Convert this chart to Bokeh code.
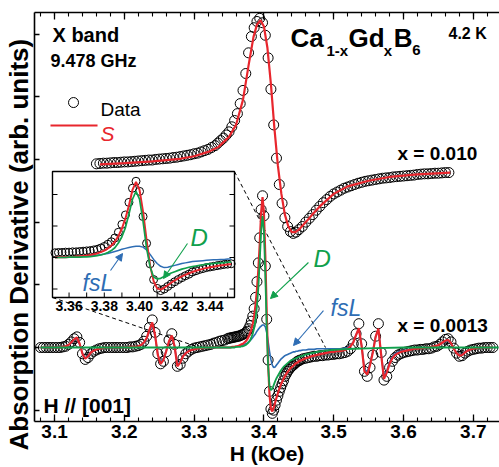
import math
from bokeh.plotting import figure
from bokeh.models import (Range1d, LinearAxis, SingleIntervalTicker, Label, Arrow,
                          NormalHead, ColumnDataSource, Title)
from bokeh.embed import file_html
from bokeh.resources import INLINE

FONT = "Liberation Sans"
RED = "#e8262d"
GREEN = "#10a04c"
BLUE = "#2e6db4"

# ---------------- x = 0.010 (upper trace) ----------------
up_h = [3.160, 3.165, 3.170, 3.175, 3.180, 3.185, 3.190, 3.195, 3.200, 3.205,
        3.210, 3.215, 3.220, 3.225, 3.230, 3.235, 3.240, 3.245, 3.250, 3.255,
        3.260, 3.265, 3.270, 3.275, 3.280, 3.285, 3.290, 3.295, 3.300, 3.305,
        3.310, 3.315, 3.320, 3.325, 3.330,
        3.334, 3.338, 3.342, 3.346, 3.350, 3.354, 3.358, 3.362, 3.366, 3.370,
        3.374, 3.378, 3.382, 3.386, 3.390, 3.394, 3.398, 3.402, 3.406, 3.410,
        3.414, 3.418, 3.422, 3.426, 3.430, 3.434, 3.438, 3.442, 3.446, 3.450,
        3.455, 3.460, 3.465, 3.470, 3.475, 3.480, 3.485, 3.490, 3.495, 3.500,
        3.505, 3.510, 3.515, 3.520, 3.525, 3.530, 3.535, 3.540, 3.545, 3.550,
        3.555, 3.560, 3.565, 3.570, 3.575, 3.580, 3.585, 3.590, 3.595, 3.600,
        3.605, 3.610, 3.615, 3.620, 3.625, 3.630, 3.635, 3.640, 3.645, 3.650,
        3.655, 3.660, 3.665]
up_data = [2.93, 2.935, 2.94, 2.94, 2.945, 2.95, 2.95, 2.955, 2.96, 2.96,
           2.965, 2.97, 2.975, 2.98, 2.985, 2.99, 2.99, 3.00, 3.005, 3.01,
           3.015, 3.02, 3.03, 3.035, 3.045, 3.055, 3.065, 3.075, 3.09, 3.10,
           3.12, 3.14, 3.16, 3.19, 3.22,
           3.26, 3.30, 3.34, 3.39, 3.44, 3.52, 3.62, 3.73, 3.89, 4.10,
           4.37, 4.70, 4.96, 5.10, 5.20, 5.25, 5.18, 4.98, 4.62, 4.12,
           3.55, 3.02, 2.60, 2.30, 2.07, 1.93, 1.85, 1.82, 1.84, 1.88,
           1.93, 2.00, 2.06, 2.12, 2.19, 2.25, 2.31, 2.36, 2.41, 2.45,
           2.48, 2.51, 2.54, 2.56, 2.58, 2.60, 2.62, 2.635, 2.65, 2.66,
           2.67, 2.68, 2.69, 2.70, 2.705, 2.71, 2.72, 2.725, 2.73, 2.735,
           2.74, 2.745, 2.75, 2.76, 2.765, 2.77, 2.77, 2.775, 2.78, 2.78,
           2.785, 2.79, 2.79]
up_fit_h = [3.165, 3.20, 3.24, 3.28, 3.30, 3.32, 3.335, 3.35, 3.36, 3.37,
            3.378, 3.385, 3.39, 3.395, 3.40, 3.405, 3.41, 3.415, 3.42, 3.425,
            3.43, 3.435, 3.44, 3.445, 3.45, 3.46, 3.47, 3.48, 3.50, 3.52,
            3.55, 3.58, 3.62, 3.667]
up_fit_s = [2.92, 2.94, 2.97, 3.01, 3.05, 3.12, 3.20, 3.36, 3.55, 3.95,
            4.50, 4.95, 5.15, 5.22, 5.12, 4.78, 4.20, 3.50, 2.90, 2.45,
            2.12, 1.93, 1.84, 1.84, 1.88, 2.00, 2.13, 2.25, 2.45, 2.57,
            2.66, 2.72, 2.76, 2.79]

# ---------------- x = 0.0013 (lower trace) ----------------
h_a = [3.080, 3.084, 3.088, 3.092, 3.096, 3.100, 3.104, 3.108,
       3.112, 3.116, 3.120, 3.124, 3.128, 3.132, 3.136, 3.140, 3.144, 3.148,
       3.152, 3.156, 3.160, 3.164, 3.168, 3.172, 3.176, 3.180, 3.184, 3.188,
       3.192, 3.196, 3.200, 3.204, 3.208, 3.212, 3.216, 3.220, 3.224, 3.228,
       3.232, 3.236, 3.240, 3.244, 3.248, 3.252, 3.256, 3.260, 3.264, 3.268,
       3.272, 3.276, 3.280, 3.284, 3.288, 3.292, 3.296, 3.300, 3.304, 3.308,
       3.312, 3.316, 3.320, 3.324, 3.328, 3.332, 3.336, 3.340, 3.344, 3.348]
h_b = [3.350, 3.352, 3.354, 3.356, 3.358, 3.360, 3.362, 3.364, 3.366, 3.368,
       3.370, 3.372, 3.374, 3.376, 3.378, 3.380, 3.382, 3.384, 3.386, 3.388,
       3.390, 3.392, 3.394, 3.396, 3.398, 3.400, 3.402, 3.404, 3.406, 3.408,
       3.410, 3.412, 3.414, 3.416, 3.418, 3.420, 3.422, 3.424, 3.426, 3.428,
       3.430, 3.432, 3.434, 3.436, 3.438, 3.440, 3.442, 3.444, 3.446, 3.448,
       3.450]
h_c = [3.452, 3.456, 3.460, 3.464, 3.468, 3.472, 3.476, 3.480, 3.484, 3.488,
       3.492, 3.496, 3.500, 3.504, 3.508, 3.512, 3.516, 3.520, 3.524, 3.528,
       3.532, 3.536, 3.540, 3.544, 3.548, 3.552, 3.556, 3.560, 3.564, 3.568,
       3.572, 3.576, 3.580, 3.584, 3.588, 3.592, 3.596, 3.600, 3.604, 3.608,
       3.612, 3.616, 3.620, 3.624, 3.628, 3.632, 3.636, 3.640, 3.644, 3.648,
       3.652, 3.656, 3.660, 3.664, 3.668, 3.672, 3.676, 3.680, 3.684, 3.688,
       3.692, 3.696, 3.700, 3.704, 3.708, 3.712, 3.716, 3.720, 3.724, 3.728]

data_a = [0, 0, 0, 0, 0, 0, 0, 0,
          0.01, 0.02, 0.05, 0.09, 0.14, 0.17, 0.08, -0.10, -0.19, -0.16,
          -0.10, -0.06, -0.04, -0.02, -0.01, 0, 0, 0, 0, 0,
          0, 0, 0, 0, 0.01, 0.01, 0.02, 0.03, 0.05, 0.10,
          0.18, 0.32, 0.44, 0.24, -0.10, -0.26, -0.22, -0.07, 0.12, 0.22,
          0.05, -0.30, -0.27, -0.17, -0.10, -0.06, -0.03, -0.01, 0.00, 0.01,
          0.02, 0.03, 0.04, 0.05, 0.07, 0.08, 0.10, 0.11, 0.12, 0.14]
data_b = [0.15, 0.15, 0.16, 0.16, 0.17, 0.17, 0.18, 0.18, 0.19, 0.20,
          0.21, 0.22, 0.24, 0.26, 0.30, 0.35, 0.42, 0.50, 0.62, 0.80,
          1.05, 1.35, 1.75, 2.20, 2.42, 2.10, 1.30, 0.45, -0.20, -0.70,
          -0.98, -1.05, -1.00, -0.92, -0.84, -0.77, -0.70, -0.64, -0.58, -0.53,
          -0.46, -0.42, -0.38, -0.35, -0.32, -0.30, -0.28, -0.26, -0.24, -0.22,
          -0.21]
data_c = [-0.20, -0.18, -0.17, -0.16, -0.15, -0.14, -0.14, -0.13, -0.13, -0.12,
          -0.12, -0.11, -0.11, -0.10, -0.10, -0.09, -0.08, -0.06, -0.02, 0.06,
          0.22, 0.38, 0.06, -0.38, -0.46, -0.32, -0.12, 0.18, 0.38, -0.08,
          -0.52, -0.46, -0.32, -0.22, -0.16, -0.12, -0.10, -0.08, -0.07, -0.06,
          -0.05, -0.04, -0.04, -0.03, -0.03, -0.02, -0.02, -0.01, 0.01, 0.02,
          0.05, 0.09, 0.13, 0.14, 0.09, -0.01, -0.09, -0.14, -0.13, -0.09,
          -0.06, -0.04, -0.03, -0.02, -0.01, -0.01, 0, 0, 0, 0]

s_a = [0, 0, 0, 0, 0, 0, 0, 0,
       0.01, 0.02, 0.04, 0.08, 0.13, 0.16, 0.06, -0.10, -0.18, -0.14,
       -0.08, -0.05, -0.03, -0.02, -0.01, 0, 0, 0, 0, 0,
       0, 0, 0, 0, 0.01, 0.01, 0.01, 0.02, 0.04, 0.08,
       0.15, 0.28, 0.40, 0.20, -0.12, -0.26, -0.20, -0.06, 0.10, 0.19,
       0.02, -0.30, -0.24, -0.14, -0.09, -0.06, -0.04, -0.03, -0.02, -0.01,
       -0.01, 0, 0, 0, 0, 0, 0, 0, 0, 0]
s_b = [0.00, 0.00, 0.01, 0.01, 0.01, 0.02, 0.02, 0.03, 0.04, 0.05,
       0.06, 0.08, 0.10, 0.13, 0.17, 0.22, 0.29, 0.38, 0.50, 0.68,
       0.92, 1.24, 1.65, 2.15, 2.40, 2.15, 1.45, 0.55, -0.25, -0.75,
       -0.98, -1.02, -0.96, -0.88, -0.80, -0.73, -0.66, -0.60, -0.55, -0.50,
       -0.46, -0.42, -0.39, -0.36, -0.33, -0.31, -0.29, -0.27, -0.25, -0.24,
       -0.22]
s_c = [-0.21, -0.19, -0.17, -0.16, -0.14, -0.13, -0.12, -0.11, -0.10, -0.09,
       -0.08, -0.07, -0.07, -0.06, -0.06, -0.05, -0.04, -0.02, 0.02, 0.08,
       0.20, 0.31, 0.02, -0.38, -0.43, -0.28, -0.08, 0.17, 0.30, -0.12,
       -0.50, -0.40, -0.26, -0.17, -0.12, -0.09, -0.07, -0.06, -0.05, -0.04,
       -0.03, -0.02, -0.02, -0.01, -0.01, 0, 0, 0.01, 0.02, 0.03,
       0.05, 0.08, 0.11, 0.12, 0.07, -0.02, -0.09, -0.13, -0.12, -0.08,
       -0.05, -0.03, -0.02, -0.01, 0, 0, 0, 0, 0, 0]

fsl_a = [0, 0, 0, 0, 0, 0, 0, 0,
         0.01, 0.02, 0.04, 0.07, 0.12, 0.15, 0.05, -0.09, -0.17, -0.13,
         -0.07, -0.05, -0.03, -0.02, -0.01, 0, 0, 0, 0, 0,
         0, 0, 0, 0, 0.01, 0.01, 0.01, 0.02, 0.04, 0.07,
         0.14, 0.26, 0.37, 0.18, -0.11, -0.24, -0.18, -0.05, 0.09, 0.17,
         0.02, -0.28, -0.22, -0.13, -0.08, -0.05, -0.04, -0.03, -0.02, -0.01,
         -0.01, 0, 0, 0, 0, 0, 0, 0, 0, 0]
fsl_b = [0.00, 0.00, 0.01, 0.01, 0.01, 0.01, 0.02, 0.02, 0.03, 0.03,
         0.04, 0.05, 0.06, 0.07, 0.09, 0.11, 0.13, 0.16, 0.19, 0.22,
         0.26, 0.29, 0.32, 0.34, 0.36, 0.36, 0.33, 0.24, 0.10, -0.06,
         -0.19, -0.28, -0.32, -0.31, -0.28, -0.25, -0.22, -0.19, -0.17, -0.15,
         -0.13, -0.12, -0.11, -0.10, -0.09, -0.08, -0.07, -0.07, -0.06, -0.06,
         -0.05]
fsl_c = [-0.05, -0.04, -0.04, -0.03, -0.03, -0.03, -0.02, -0.02, -0.02, -0.02,
         -0.02, -0.02, -0.02, -0.02, -0.02, -0.02, -0.01, 0.00, 0.03, 0.09,
         0.20, 0.30, 0.03, -0.34, -0.39, -0.25, -0.06, 0.17, 0.29, -0.10,
         -0.46, -0.37, -0.23, -0.15, -0.10, -0.07, -0.06, -0.05, -0.04, -0.03,
         -0.02, -0.02, -0.01, -0.01, 0, 0, 0, 0.01, 0.02, 0.03,
         0.05, 0.07, 0.10, 0.11, 0.06, -0.02, -0.08, -0.12, -0.11, -0.07,
         -0.05, -0.03, -0.02, -0.01, 0, 0, 0, 0, 0, 0]

d_h_a = [3.080, 3.348]
d_a = [0.0, 0.0]
d_b = [0.00, 0.00, 0.00, 0.00, 0.00, 0.01, 0.01, 0.01, 0.01, 0.02,
       0.02, 0.03, 0.04, 0.06, 0.08, 0.11, 0.16, 0.22, 0.31, 0.46,
       0.66, 0.95, 1.38, 1.85, 2.10, 1.85, 1.15, 0.30, -0.30, -0.62,
       -0.68, -0.66, -0.60, -0.54, -0.49, -0.45, -0.41, -0.37, -0.34, -0.31,
       -0.29, -0.27, -0.25, -0.23, -0.21, -0.20, -0.19, -0.18, -0.17, -0.16,
       -0.15]
d_h_c = [3.452, 3.456, 3.460, 3.464, 3.468, 3.472, 3.476, 3.480, 3.488, 3.496,
         3.510, 3.530, 3.560, 3.600, 3.736]
d_c = [-0.14, -0.13, -0.11, -0.10, -0.09, -0.08, -0.07, -0.06, -0.05, -0.04,
       -0.03, -0.02, -0.01, 0.0, 0.0]

x_ticks_inset = [3.36, 3.38, 3.40, 3.42, 3.44]
x_minor_inset = [3.36, 3.37, 3.38, 3.39, 3.40, 3.41, 3.42, 3.43, 3.44, 3.45]
y_ticks_inset = [-1, 0, 1, 2]

# ---------------- assemble ----------------
low_h = h_a + h_b + h_c
low_data = data_a + data_b + data_c
low_s = s_a + s_b + s_c
low_fsl = fsl_a + fsl_b + fsl_c
d_h = d_h_a + h_b + d_h_c
d_all = d_a + d_b + d_c

# geometry (frame: 34..499 px wide, 12..421 px tall)
XR = (3.0713, 3.7375)
YR = (-1.180, 5.343)
INSET_X = (3.3506, 3.4539)
INSET_Y = (-1.27, 2.73)
IX_RANGE = (3.34039, 3.60430)
IY_RANGE = (-5.206, 7.778)

p = figure(width=499, height=467, x_range=Range1d(*XR), y_range=Range1d(*YR),
           output_backend="svg", toolbar_location=None,
           x_axis_location=None, y_axis_location=None,
           min_border_left=34, min_border_right=0, min_border_top=12, min_border_bottom=46)
p.outline_line_color = None
p.grid.visible = False
p.background_fill_color = "white"
p.border_fill_color = "white"
p.extra_x_ranges = {"ix": Range1d(*IX_RANGE)}
p.extra_y_ranges = {"iy": Range1d(*IY_RANGE)}

xt = SingleIntervalTicker(interval=0.1, num_minor_ticks=5)
yt = SingleIntervalTicker(interval=1, num_minor_ticks=0)
xb = LinearAxis(ticker=xt)
xa = LinearAxis(ticker=xt)
yl = LinearAxis(ticker=yt)
for ax in (xb, xa, yl):
    ax.axis_line_width = 1.6
    ax.axis_line_color = "black"
    ax.major_tick_in = 7
    ax.major_tick_out = 0
    ax.minor_tick_in = 4
    ax.minor_tick_out = 0
    ax.major_tick_line_width = 1.3
    ax.minor_tick_line_width = 1.1
    ax.major_tick_line_color = "black"
    ax.minor_tick_line_color = "black"
for ax in (xa, yl):
    ax.major_label_text_font_size = "0px"
    ax.major_label_text_color = None
    ax.major_label_standoff = 0
yl.major_tick_in = 5
xb.major_label_text_font = FONT
xb.major_label_text_font_size = "19px"
xb.major_label_text_font_style = "bold"
xb.major_label_text_color = "black"
xb.major_label_standoff = 3
xb.axis_label = "H (kOe)"
xb.axis_label_text_font = FONT
xb.axis_label_text_font_size = "21px"
xb.axis_label_text_font_style = "bold"
xb.axis_label_text_color = "black"
xb.axis_label_standoff = 1
p.add_layout(xb, "below")
p.add_layout(xa, "above")
p.add_layout(yl, "left")
# vertical title, bottom-anchored like the original (starts below the frame bottom)
ytitle = Title(text="Absorption Derivative  (arb. units)", align="left", offset=-29,
               standoff=1, text_font=FONT, text_font_size="26px", text_font_style="bold",
               text_color="black", vertical_align="bottom")
p.add_layout(ytitle, "left")

# zoom guide lines (dashed)
p.line(x=[3.3578, 3.4882], y=[2.807, 0.0], line_color="black", line_dash="4 3", line_width=1)
p.line(x=[3.0971, 3.3077], y=[0.797, 0.0], line_color="black", line_dash="4 3", line_width=1)

# upper trace
p.scatter(x=up_h, y=up_data, marker="circle", size=10, fill_color=None,
          line_color="black", line_width=1)
p.line(x=up_fit_h, y=up_fit_s, line_color=RED, line_width=2.2)

# lower trace
p.scatter(x=low_h, y=low_data, marker="circle", size=10, fill_color=None,
          line_color="black", line_width=1)
p.line(x=low_h, y=low_fsl, line_color=BLUE, line_width=1.6)
p.line(x=low_h, y=low_s, line_color=RED, line_width=2.2)
p.line(x=d_h, y=d_all, line_color=GREEN, line_width=1.8)

# ---------------- inset ----------------
p.quad(left=[INSET_X[0]], right=[INSET_X[1]], bottom=[INSET_Y[0]], top=[INSET_Y[1]],
       x_range_name="ix", y_range_name="iy", fill_color="white",
       line_color="black", line_width=1.4)
idx = [i for i, h in enumerate(low_h) if INSET_X[0] <= h <= INSET_X[1]]
gidx = [i for i, h in enumerate(d_h) if INSET_X[0] <= h <= INSET_X[1]]
src_in = ColumnDataSource(dict(h=[low_h[i] for i in idx], dat=[low_data[i] for i in idx],
                               s=[low_s[i] for i in idx], f=[low_fsl[i] for i in idx]))
src_d = ColumnDataSource(dict(h=[d_h[i] for i in gidx], d=[d_all[i] for i in gidx]))
p.scatter(x="h", y="dat", source=src_in, marker="circle", size=8, fill_color=None,
          line_color="black", line_width=1, x_range_name="ix", y_range_name="iy")
p.line(x="h", y="f", source=src_in, line_color=BLUE, line_width=1.5,
       x_range_name="ix", y_range_name="iy")
p.line(x="h", y="s", source=src_in, line_color=RED, line_width=2,
       x_range_name="ix", y_range_name="iy")
p.line(x="h", y="d", source=src_d, line_color=GREEN, line_width=1.7,
       x_range_name="ix", y_range_name="iy")

tick_len_y = 5 / 31.5
tick_len_x = 5 / 1762
p.segment(x0=x_minor_inset, y0=[INSET_Y[0]] * len(x_minor_inset),
          x1=x_minor_inset, y1=[INSET_Y[0] + tick_len_y] * len(x_minor_inset),
          line_color="black", line_width=1, x_range_name="ix", y_range_name="iy")
p.segment(x0=[INSET_X[0]] * len(y_ticks_inset), y0=y_ticks_inset,
          x1=[INSET_X[0] + tick_len_x] * len(y_ticks_inset), y1=y_ticks_inset,
          line_color="black", line_width=1, x_range_name="ix", y_range_name="iy")
p.segment(x0=[INSET_X[1]] * len(y_ticks_inset), y0=y_ticks_inset,
          x1=[INSET_X[1] - tick_len_x] * len(y_ticks_inset), y1=y_ticks_inset,
          line_color="black", line_width=1, x_range_name="ix", y_range_name="iy")
for t in x_ticks_inset:
    p.add_layout(Label(x=t, y=INSET_Y[0] - 0.1, text="%.2f" % t, x_range_name="ix",
                       y_range_name="iy", text_align="center", text_baseline="top",
                       text_font=FONT, text_font_style="bold", text_font_size="14px",
                       text_color="black"))


def lab(x, y, text, size, color="black", style="bold", align="left",
        baseline="alphabetic", angle=0.0):
    p.add_layout(Label(x=x, y=y, text=text, text_font=FONT, text_font_size=size,
                       text_font_style=style, text_color=color, text_align=align,
                       text_baseline=baseline, angle=angle))


def arrow(x0, y0, x1, y1, color):
    p.add_layout(Arrow(end=NormalHead(size=7, fill_color=color, line_color=color),
                       x_start=x0, y_start=y0, x_end=x1, y_end=y1,
                       line_color=color, line_width=1.1))


# texts
lab(3.0971, 4.992, "X band", "20px")
lab(3.0942, 4.577, "9.478 GHz", "18px")
p.scatter(x=[3.1272], y=[3.907], marker="circle", size=10, fill_color=None,
          line_color="black", line_width=1)
lab(3.1659, 3.796, "Data", "19px", style="normal")
p.line(x=[3.0942, 3.1616], y=[3.541, 3.541], line_color=RED, line_width=2.2)
lab(3.1659, 3.413, "S", "21px", color=RED, style="italic")

lab(3.4381, 4.944, "Ca", "26px")
lab(3.4896, 4.737, "1-x", "15px")
lab(3.5212, 4.944, "Gd", "26px")
lab(3.5717, 4.737, "x", "15px")
lab(3.5861, 4.944, "B", "26px")
lab(3.6124, 4.737, "6", "15px")
lab(3.6644, 5.008, "4.2 K", "16px")

lab(3.5914, 3.094, "x = 0.010", "19px")
lab(3.5914, 0.351, "x = 0.0013", "19px")
lab(3.0842, -0.925, "H // [001]", "21px")

lab(3.4710, 1.419, "D", "24px", color=GREEN, style="italic")
arrow(3.4638, 1.356, 3.4094, 0.781, GREEN)
lab(3.4954, 0.638, "fsL", "23px", color=BLUE, style="italic")
arrow(3.4853, 0.590, 3.4424, 0.032, BLUE)

lab(3.2948, 1.754, "D", "24px", color=GREEN, style="italic")
arrow(3.2905, 1.659, 3.2561, 1.100, GREEN)
lab(3.1401, 1.021, "fsL", "23px", color=BLUE, style="italic")
arrow(3.1802, 1.228, 3.1974, 1.499, BLUE)

open("out.html", "w").write(file_html(p, INLINE))
